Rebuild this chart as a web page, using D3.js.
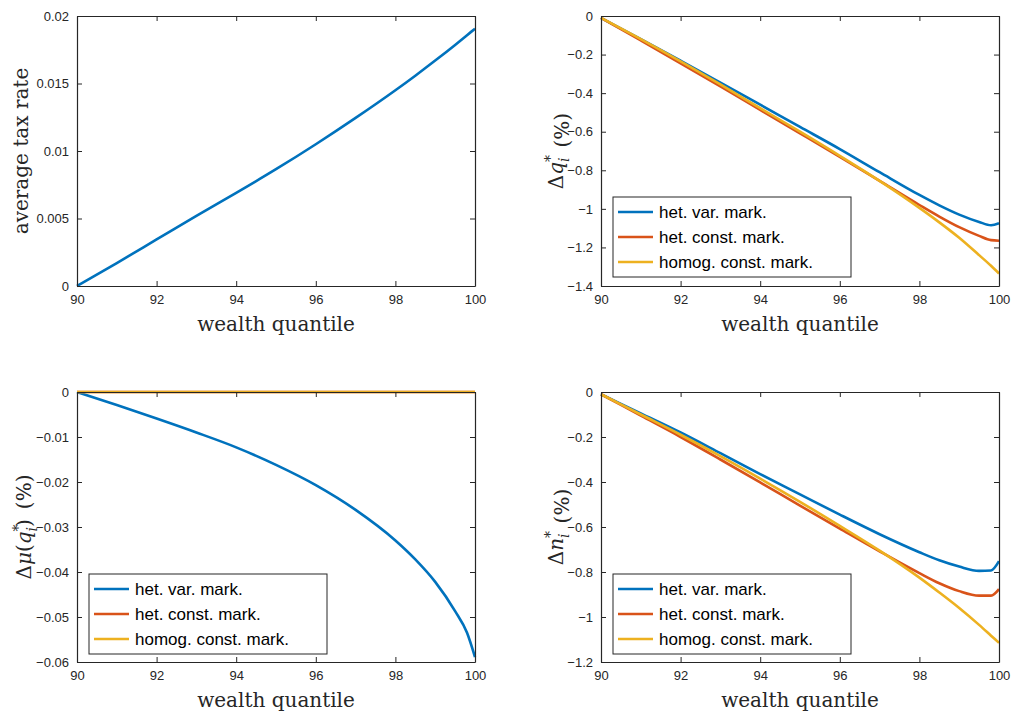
<!DOCTYPE html>
<html>
<head>
<meta charset="utf-8">
<script src="https://cdn.jsdelivr.net/npm/d3@7"></script>
<style>
body { margin: 0; background: #fff; }
svg { display: block; }
.tick text { font-family: "Liberation Sans", Arial, sans-serif; font-size: 13px; fill: #262626; }
.domain, .tick line { stroke: #262626; }
.lbl { font-family: "DejaVu Serif", "Liberation Serif", serif; fill: #262626; }
.leg { font-family: "Liberation Sans", Arial, sans-serif; font-size: 17px; fill: #000; }
</style>
</head>
<body>
<svg id="chart"></svg>
<script>
// x values (wealth quantile)
var quantiles = [90, 91, 92, 93, 94, 95, 96, 97, 98, 98.5, 99, 99.5, 99.8, 100];
var xTicks = [90, 92, 94, 96, 98, 100];

var seriesNames = ["het. var. mark.", "het. const. mark.", "homog. const. mark."];
var colors = ["#0072BD", "#D95319", "#EDB120"];

// panel 1: average tax rate
var taxRate = [0, 0.0017, 0.00345, 0.0052, 0.0069, 0.00865, 0.0105, 0.01245, 0.0145, 0.01558, 0.0167, 0.01786, 0.01858, 0.01906];
var taxTicks = [0, 0.005, 0.01, 0.015, 0.02];

// panel 2: change in q*
var dqHetVar   = [-0.01, -0.12, -0.232, -0.345, -0.46, -0.575, -0.69, -0.81, -0.928, -0.982, -1.03, -1.068, -1.085, -1.075];
var dqHetConst = [-0.01, -0.127, -0.245, -0.365, -0.487, -0.608, -0.73, -0.855, -0.98, -1.04, -1.095, -1.14, -1.162, -1.165];
var dqHomog    = [-0.01, -0.12, -0.235, -0.355, -0.478, -0.6, -0.725, -0.855, -0.995, -1.07, -1.15, -1.24, -1.295, -1.335];
var dqTicks = [0, -0.2, -0.4, -0.6, -0.8, -1, -1.2, -1.4];

// panel 3: change in mu(q*)
var dmuHetVar   = [0, -0.0029, -0.0059, -0.009, -0.0123, -0.0162, -0.0207, -0.0262, -0.033, -0.0372, -0.0422, -0.0487, -0.0535, -0.0589];
var dmuHetConst = [0, 0, 0, 0, 0, 0, 0, 0, 0, 0, 0, 0, 0, 0];
var dmuHomog    = [0, 0, 0, 0, 0, 0, 0, 0, 0, 0, 0, 0, 0, 0];
var dmuTicks = [0, -0.01, -0.02, -0.03, -0.04, -0.05, -0.06];

// panel 4: change in n*
var dnHetVar   = [-0.01, -0.095, -0.18, -0.272, -0.365, -0.455, -0.545, -0.632, -0.712, -0.748, -0.776, -0.795, -0.793, -0.752];
var dnHetConst = [-0.01, -0.105, -0.2, -0.3, -0.402, -0.505, -0.607, -0.708, -0.805, -0.85, -0.885, -0.905, -0.905, -0.876];
var dnHomog    = [-0.01, -0.1, -0.19, -0.285, -0.385, -0.488, -0.595, -0.705, -0.825, -0.891, -0.96, -1.035, -1.083, -1.115];
var dnTicks = [0, -0.2, -0.4, -0.6, -0.8, -1, -1.2];

var svg = d3.select("#chart").attr("width", 1013).attr("height", 713);

var panels = [
  {left: 77, top: 16, series: [taxRate], domain: [0, 0.02], ticks: taxTicks, legend: null, ylabel: "tax", labelX: -49},
  {left: 601, top: 16, series: [dqHetVar, dqHetConst, dqHomog], domain: [-1.4, 0], ticks: dqTicks, legend: {x: 613, y: 197}, ylabel: "q", labelX: -38},
  {left: 77, top: 392, series: [dmuHetVar, dmuHetConst, dmuHomog], domain: [-0.06, 0], ticks: dmuTicks, legend: {x: 89, y: 574}, ylabel: "mu", labelX: -46},
  {left: 601, top: 392, series: [dnHetVar, dnHetConst, dnHomog], domain: [-1.2, 0], ticks: dnTicks, legend: {x: 613, y: 574}, ylabel: "n", labelX: -38}
];
var W = 398, H = 270;

var drawPanel = function(p)
{
  var g = svg.append("g").attr("transform", "translate(" + p.left + "," + p.top + ")");
  var x = d3.scaleLinear().domain([90, 100]).range([0, W]);
  var y = d3.scaleLinear().domain(p.domain).range([H, 0]);

  var line = d3.line()
    .x(function(d, i) { return x(quantiles[i]); })
    .y(function(d) { return y(d); })
    .curve(d3.curveMonotoneX);

  p.series.forEach(function(s, i) {
    g.append("path").datum(s)
      .attr("d", line)
      .attr("fill", "none")
      .attr("stroke", colors[i])
      .attr("stroke-width", 2.6);
  });

  var fmt = function(d) { return d3.format("")(+d.toFixed(4)); };
  g.append("g").attr("transform", "translate(0," + H + ")")
    .call(d3.axisBottom(x).tickValues(xTicks).tickSizeInner(-5).tickSizeOuter(0).tickPadding(9));
  g.append("g")
    .call(d3.axisTop(x).tickValues(xTicks).tickSizeInner(-5).tickSizeOuter(0).tickFormat(""));
  g.append("g")
    .call(d3.axisLeft(y).tickValues(p.ticks).tickSizeInner(-5).tickSizeOuter(0).tickPadding(8).tickFormat(fmt));
  g.append("g").attr("transform", "translate(" + W + ",0)")
    .call(d3.axisRight(y).tickValues(p.ticks).tickSizeInner(-5).tickSizeOuter(0).tickFormat(""));
  g.selectAll(".domain").attr("stroke-width", 1.2);

  g.append("text").attr("class", "lbl")
    .attr("x", W / 2).attr("y", H + 45)
    .attr("text-anchor", "middle").attr("font-size", 20)
    .text("wealth quantile");

  var yl = g.append("text").attr("class", "lbl")
    .attr("transform", "translate(" + p.labelX + "," + (H / 2) + ") rotate(-90)")
    .attr("text-anchor", "middle").attr("font-size", 20);
  if (p.ylabel === "tax") {
    yl.text("average tax rate");
  } else {
    yl.append("tspan").text("Δ");
    if (p.ylabel === "mu") {
      yl.append("tspan").attr("font-style", "italic").text("μ");
      yl.append("tspan").text("(");
      yl.append("tspan").attr("font-style", "italic").text("q");
      yl.append("tspan").attr("font-size", 14).attr("dy", -8).text("*");
      yl.append("tspan").attr("font-size", 14).attr("font-style", "italic").attr("dx", -7).attr("dy", 14).text("i");
      yl.append("tspan").attr("dy", -6).text(")");
    } else {
      yl.append("tspan").attr("font-style", "italic").text(p.ylabel);
      yl.append("tspan").attr("font-size", 14).attr("dy", -8).text("*");
      yl.append("tspan").attr("font-size", 14).attr("font-style", "italic").attr("dx", -7).attr("dy", 14).text("i");
      yl.append("tspan").attr("dy", -6).text("");
    }
    yl.append("tspan").attr("dx", 10).text("(%)");
  }

  if (p.legend) {
    var lg = svg.append("g").attr("transform", "translate(" + p.legend.x + "," + p.legend.y + ")");
    lg.append("rect").attr("width", 238).attr("height", 80)
      .attr("fill", "#fff").attr("stroke", "#262626").attr("stroke-width", 1);
    seriesNames.forEach(function(n, i) {
      var yy = 15 + i * 25;
      lg.append("line").attr("x1", 5).attr("x2", 40).attr("y1", yy).attr("y2", yy)
        .attr("stroke", colors[i]).attr("stroke-width", 2.6);
      lg.append("text").attr("class", "leg").attr("x", 46).attr("y", yy + 6).text(n);
    });
  }
};

panels.forEach(drawPanel);
</script>
</body>
</html>
